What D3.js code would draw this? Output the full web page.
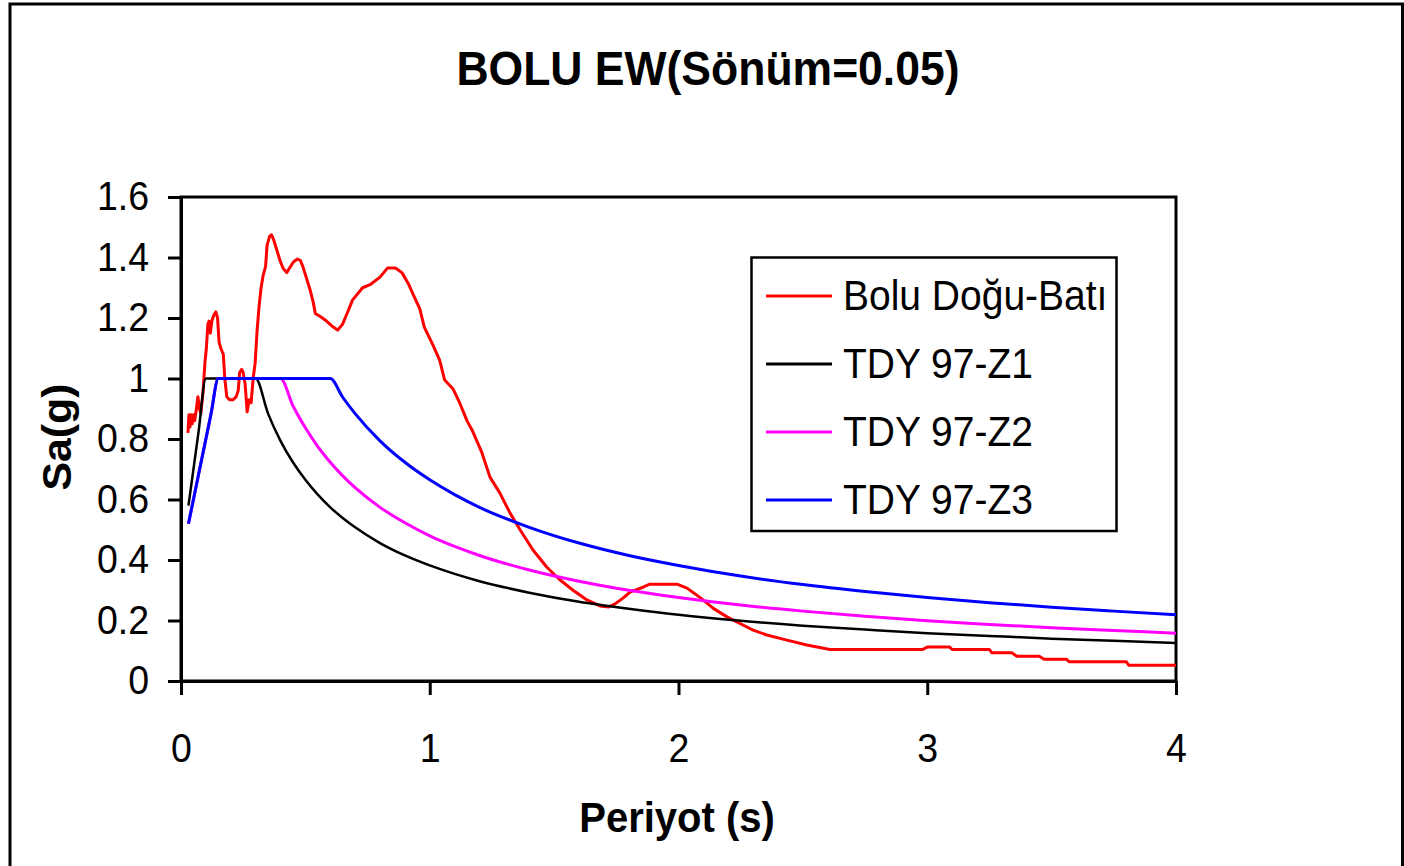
<!DOCTYPE html>
<html>
<head>
<meta charset="utf-8">
<script src="https://cdn.jsdelivr.net/npm/d3@7/dist/d3.min.js"></script>
<style>
  html, body { margin: 0; padding: 0; background: #fff; }
  svg { display: block; font-family: "Liberation Sans", Arial, sans-serif; }
</style>
</head>
<body>
<svg id="chart" width="1404" height="866"></svg>
<script>
// ---------------- DATA ----------------
const chartTitle = "BOLU EW(Sönüm=0.05)";
const xTitle = "Periyot (s)";
const yTitle = "Sa(g)";
const xTicks = [0, 1, 2, 3, 4];
const yTicks = [0, 0.2, 0.4, 0.6, 0.8, 1, 1.2, 1.4, 1.6];
const seriesNames = ["Bolu Doğu-Batı", "TDY 97-Z1", "TDY 97-Z2", "TDY 97-Z3"];
const seriesColors = ["#ff0000", "#000000", "#ff00ff", "#0000ff"];

// Recorded spectrum (Bolu EW)
const boluT = [0.028,0.032,0.036,0.040,0.045,0.050,0.055,0.062,0.068,0.074,0.080,0.088,0.096,0.102,0.108,0.113,0.118,0.124,0.132,0.140,0.147,0.153,0.160,0.170,0.176,0.184,0.195,0.210,0.222,0.230,0.236,0.244,0.250,0.258,0.266,0.274,0.282,0.290,0.298,0.306,0.314,0.322,0.330,0.340,0.346,0.356,0.364,0.372,0.385,0.398,0.410,0.425,0.440,0.452,0.468,0.480,0.490,0.505,0.520,0.532,0.540,0.560,0.585,0.612,0.630,0.650,0.665,0.690,0.730,0.760,0.800,0.830,0.862,0.888,0.913,0.935,0.960,0.978,1.013,1.040,1.060,1.094,1.120,1.150,1.170,1.210,1.242,1.282,1.323,1.363,1.415,1.470,1.524,1.576,1.632,1.684,1.720,1.745,1.777,1.805,1.857,1.885,1.994,2.034,2.090,2.140,2.195,2.247,2.300,2.355,2.436,2.516,2.609,2.980,3.000,3.090,3.100,3.250,3.260,3.340,3.360,3.450,3.470,3.560,3.570,3.800,3.810,4.000];
const boluSa = [0.82,0.88,0.84,0.88,0.85,0.88,0.86,0.90,0.94,0.90,0.885,0.95,1.05,1.10,1.18,1.19,1.15,1.19,1.21,1.22,1.20,1.12,1.10,1.08,1.00,0.94,0.93,0.93,0.94,0.96,1.02,1.03,1.02,0.98,0.89,0.93,0.92,1.00,1.05,1.16,1.24,1.30,1.34,1.37,1.44,1.47,1.475,1.46,1.425,1.39,1.365,1.35,1.37,1.385,1.395,1.39,1.37,1.33,1.29,1.25,1.215,1.205,1.19,1.17,1.16,1.18,1.21,1.26,1.30,1.31,1.335,1.365,1.365,1.35,1.315,1.275,1.23,1.17,1.11,1.06,0.995,0.965,0.92,0.86,0.83,0.754,0.674,0.621,0.555,0.50,0.433,0.377,0.334,0.30,0.268,0.248,0.245,0.255,0.274,0.294,0.31,0.32,0.32,0.307,0.274,0.24,0.212,0.19,0.168,0.152,0.135,0.119,0.104,0.104,0.112,0.112,0.104,0.104,0.093,0.093,0.082,0.082,0.072,0.072,0.064,0.064,0.052,0.052];

// Design spectra periods (shared)
const designT = [0.03,0.05,0.07,0.10,0.12,0.15,0.20,0.30,0.35,0.40,0.45,0.50,0.55,0.60,0.65,0.70,0.80,0.90,1.00,1.10,1.20,1.40,1.60,1.80,2.00,2.25,2.50,2.75,3.00,3.25,3.50,3.75,4.00];
const z1Sa = [0.58,0.70,0.82,1.00,1.00,1.00,1.00,1.00,0.884,0.794,0.723,0.665,0.616,0.574,0.539,0.508,0.456,0.415,0.382,0.354,0.330,0.292,0.262,0.239,0.219,0.199,0.183,0.170,0.158,0.149,0.140,0.133,0.126];
const z2Sa = [0.52,0.60,0.68,0.80,0.88,1.00,1.00,1.00,1.00,1.00,0.910,0.837,0.775,0.723,0.678,0.639,0.574,0.523,0.480,0.445,0.415,0.367,0.330,0.300,0.276,0.251,0.231,0.214,0.199,0.187,0.176,0.167,0.158];
const z3Sa = [0.52,0.60,0.68,0.80,0.88,1.00,1.00,1.00,1.00,1.00,1.00,1.00,1.00,1.00,0.938,0.884,0.794,0.723,0.665,0.616,0.574,0.508,0.456,0.415,0.382,0.347,0.319,0.296,0.276,0.259,0.244,0.231,0.219];

// ---------------- CHART ----------------
const svg = d3.select("#chart");
const SY = 1.07; // vertical stretch of text in reference

const x = d3.scaleLinear().domain([0, 4]).range([181, 1176]);
const y = d3.scaleLinear().domain([0, 1.6]).range([681, 197]);

// outer border
svg.append("rect").attr("x", 10).attr("y", 4).attr("width", 1392.5).attr("height", 900)
  .attr("fill", "#fff").attr("stroke", "#000").attr("stroke-width", 3);

// title
svg.append("text").attr("transform", `translate(708,85) scale(1,${SY})`)
  .attr("text-anchor", "middle").attr("font-weight", "bold").attr("font-size", 44.5)
  .text(chartTitle);

// plot area frame
svg.append("rect").attr("x", x(0)).attr("y", y(1.6))
  .attr("width", x(4) - x(0)).attr("height", y(0) - y(1.6))
  .attr("fill", "none").attr("stroke", "#000").attr("stroke-width", 3);

// series
const series = [
  {T: boluT, v: boluSa, c: seriesColors[0]},
  {T: designT, v: z1Sa, c: seriesColors[1]},
  {T: designT, v: z2Sa, c: seriesColors[2]},
  {T: designT, v: z3Sa, c: seriesColors[3]}
];
const lineLin = d3.line().x(d => x(d[0])).y(d => y(d[1]));
const lineSm = d3.line().x(d => x(d[0])).y(d => y(d[1])).curve(d3.curveMonotoneX);
series.forEach((s, i) => {
  const pts = s.T.map((t, k) => [t, s.v[k]]);
  svg.append("path").datum(pts)
    .attr("d", i === 0 ? lineLin(pts) : lineSm(pts))
    .attr("fill", "none").attr("stroke", s.c)
    .attr("stroke-width", i === 1 ? 2.5 : 3)
    .attr("stroke-linejoin", "round");
});

// axes
const yAxis = d3.axisLeft(y).tickValues(yTicks).tickSize(13).tickSizeOuter(0).tickPadding(19)
  .tickFormat(d => d3.format("~g")(d));
const gy = svg.append("g").attr("transform", `translate(${x(0)},0)`).call(yAxis);
const xAxis = d3.axisBottom(x).tickValues(xTicks).tickSize(14).tickSizeOuter(0).tickPadding(35)
  .tickFormat(d3.format("d"));
const gx = svg.append("g").attr("transform", `translate(0,${y(0)})`).call(xAxis);
[gx, gy].forEach(g => {
  g.select(".domain").attr("stroke", "#000").attr("stroke-width", 3);
  g.selectAll(".tick line").attr("stroke", "#000").attr("stroke-width", 3);
  g.selectAll(".tick text").attr("fill", "#000").attr("font-size", 37.5)
    .attr("font-family", "Liberation Sans, Arial, sans-serif")
    .attr("transform", `scale(1,${SY})`);
});

// axis titles
svg.append("text").attr("transform", `translate(677,832) scale(1,${SY})`)
  .attr("text-anchor", "middle").attr("font-weight", "bold").attr("font-size", 40)
  .text(xTitle);
svg.append("text").attr("transform", `translate(71,437) scale(1,${SY}) rotate(-90)`)
  .attr("text-anchor", "middle").attr("font-weight", "bold").attr("font-size", 40)
  .text(yTitle);

// legend
const lg = svg.append("g");
lg.append("rect").attr("x", 751.5).attr("y", 257.5).attr("width", 365).attr("height", 273.5)
  .attr("fill", "#fff").attr("stroke", "#000").attr("stroke-width", 2.5);
const rowY = [296, 364, 432, 500];
seriesNames.forEach((n, i) => {
  lg.append("line").attr("x1", 766).attr("x2", 832).attr("y1", rowY[i]).attr("y2", rowY[i])
    .attr("stroke", seriesColors[i]).attr("stroke-width", 3);
  lg.append("text").attr("transform", `translate(843,${rowY[i] + 14}) scale(1,${SY})`)
    .attr("font-size", 39).text(n);
});
</script>
</body>
</html>
